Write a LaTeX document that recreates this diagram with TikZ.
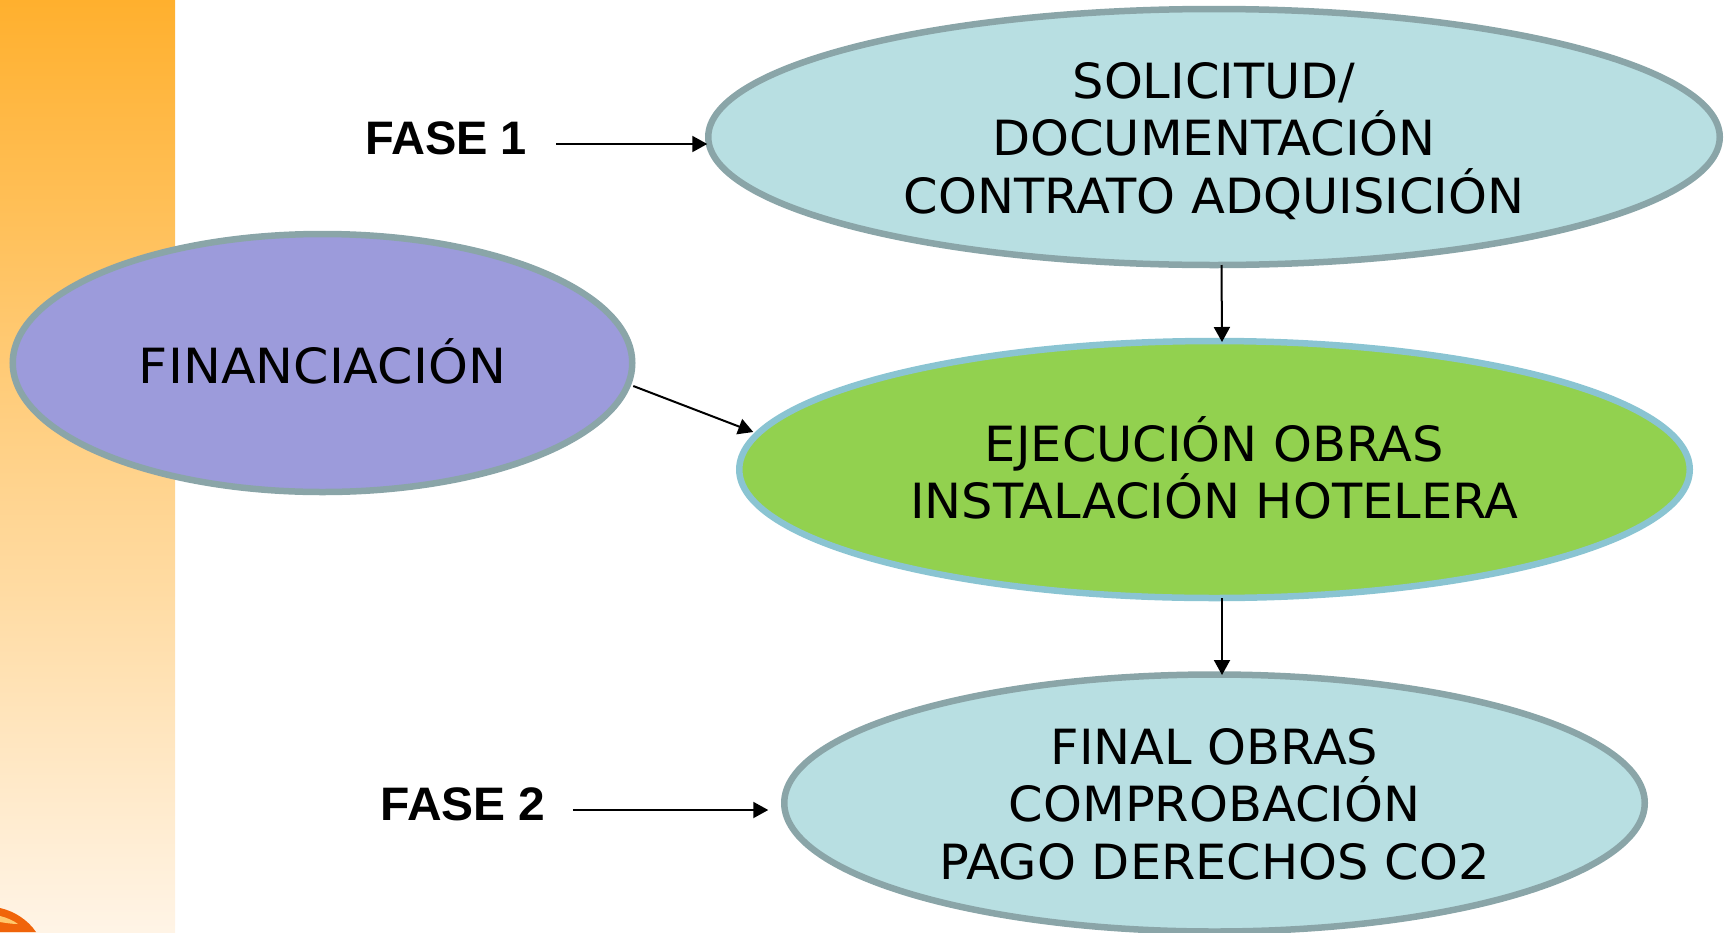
\documentclass[tikz,border=0pt]{standalone}
\usepackage{fontspec}
\setmainfont{DejaVu Sans}[FakeStretch=1.02]
\newfontfamily\boldarial{Liberation Sans}[BoldFont={Liberation Sans Bold}]
\usetikzlibrary{shapes.geometric,arrows.meta,calc}
\definecolor{tealfill}{HTML}{B8DFE2}
\definecolor{grayedge}{HTML}{8AA5A8}
\definecolor{greenfill}{HTML}{92D14F}
\definecolor{blueedge}{HTML}{8AC4D2}
\definecolor{purplefill}{HTML}{9C9BDB}
\definecolor{bandtop}{RGB}{255,176,46}
\definecolor{bandbot}{RGB}{255,244,230}
\definecolor{swirl}{RGB}{240,100,10}
\tikzset{
  oval/.style={ellipse,draw=grayedge,line width=6.5pt,inner sep=0pt,outer sep=0pt},
  ovaltext/.style={inner sep=0pt,align=center,font=\fontsize{48.5}{57.5}\selectfont},
  faselabel/.style={inner sep=0pt,font=\fontsize{47}{52}\selectfont\boldarial\bfseries},
  conn/.style={line width=2pt,-{Triangle[length=15pt,width=16pt]}}
}
\begin{document}
\begin{tikzpicture}[x=1pt,y=-1pt]
\useasboundingbox (0,0) rectangle (1729,932);
\shade[top color=bandtop,bottom color=bandbot] (0,0) rectangle (175,932);
\fill[swirl] (0,908) .. controls (14,911) and (28,920) .. (36,932) -- (0,932) -- cycle;
\fill[bandtop!70!white] (0,916) .. controls (8,918) and (14,921) .. (18,924) .. controls (12,924) and (6,923) .. (0,922) -- cycle;
\node[oval,fill=tealfill,minimum width=1011.5pt,minimum height=256pt] (sol) at (1214,137) {};
\node[oval,fill=greenfill,draw=blueedge,minimum width=950.5pt,minimum height=257pt] (gre) at (1214.5,469.5) {};
\node[oval,fill=tealfill,minimum width=860.5pt,minimum height=257pt] (fin) at (1214.5,803) {};
\node[oval,fill=purplefill,minimum width=619.5pt,minimum height=258pt] (pur) at (322.5,363) {};
\node[ovaltext] (solt) at (1214,141) {SOLICITUD/\\DOCUMENTACIÓN\\CONTRATO ADQUISICIÓN};
\node[ovaltext] (gret) at (1214.5,468) {EJECUCIÓN OBRAS\\INSTALACIÓN HOTELERA};
\node[ovaltext] (fint) at (1214.5,804) {FINAL OBRAS\\COMPROBACIÓN\\PAGO DERECHOS CO2};
\node[ovaltext] (purt) at (322.5,361) {\scalebox{1.025}[1]{FINANCIACIÓN}};
\node[faselabel] (f1) at (446,138) {FASE 1};
\node[faselabel] (f2) at (463,804) {\scalebox{1.02}[1]{FASE 2}};
\draw[conn] ($(f1.east)+(29,6)$) -- ($(sol.west)+(-1,7)$);
\draw[conn] ($(f2.east)+(27,6)$) -- ($(fin.west)+(-16,7)$);
\draw[conn] ($(sol.south)+(7.5,0)$) -- ($(gre.north)+(7.5,1)$);
\draw[conn] ($(gre.south)+(7.5,0)$) -- ($(fin.north)+(7.5,0.5)$);
\draw[conn] ($(pur.east)+(1,23)$) -- ($(gre.west)+(14,-37.5)$);
\end{tikzpicture}
\end{document}
